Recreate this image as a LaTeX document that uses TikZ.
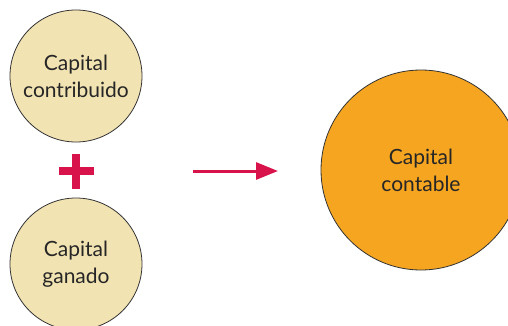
\documentclass[tikz,border=0pt]{standalone}
\usepackage{fontspec}
\setmainfont{Lato}
\usetikzlibrary{arrows.meta}
\definecolor{crema}{HTML}{F2E3B3}
\definecolor{naranja}{HTML}{F6A520}
\definecolor{carmin}{HTML}{D8134B}
\tikzset{
    capital/.style={circle, draw=black!80, line width=0.8pt, fill=crema, minimum size=132pt, inner sep=0pt, align=center, font=\fontsize{21pt}{27pt}\selectfont, text=black!85},
}
\begin{document}
\begin{tikzpicture}[x=1pt, y=1pt]
            \useasboundingbox (0,0) rectangle (508,325);
            \clip (0,0) rectangle (508,325);
            \node[capital] (contribuido) at (76,249) {Capital\\contribuido};
            \node[capital] (ganado) at (76,61) {Capital\\ganado};
            \node[capital, fill=naranja, minimum size=200pt] (contable) at (421,155) {Capital\\contable};
            \coordinate (plus) at (76,154);
            \draw[carmin, line width=8pt] ([xshift=-17.5pt]plus) -- ([xshift=17.5pt]plus);
            \draw[carmin, line width=8pt] ([yshift=-17.5pt]plus) -- ([yshift=17.5pt]plus);
            \coordinate (desde) at (193,154);
            \coordinate (hasta) at (278,154);
            \draw[carmin, line width=3pt, -{Triangle[length=22pt, width=17pt]}] (desde) -- (hasta);
        \end{tikzpicture}
\end{document}
